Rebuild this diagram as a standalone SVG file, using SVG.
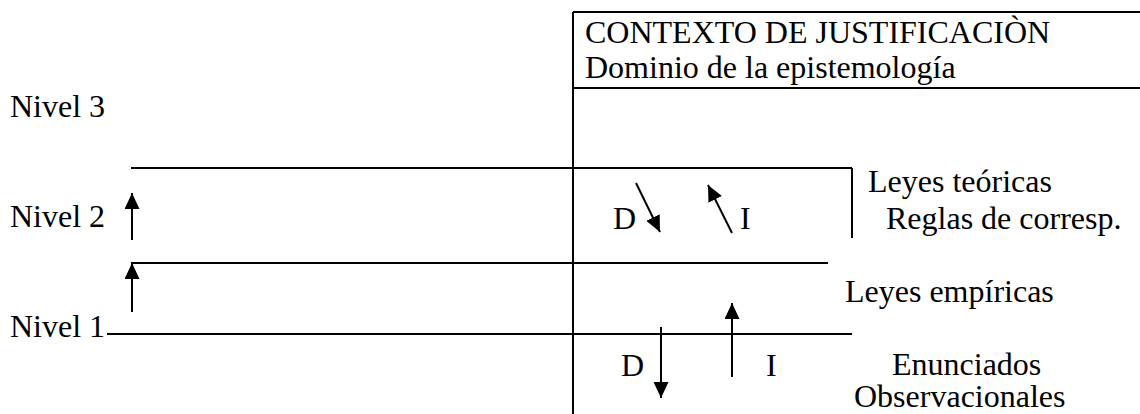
<svg xmlns="http://www.w3.org/2000/svg" width="1140" height="414" viewBox="0 0 1140 414">
<style>
text{font-family:"Liberation Serif","Times New Roman",serif;font-size:32px;fill:#000}
.ln{stroke:#000;stroke-width:2;fill:none}
</style>
<defs>
<marker id="ah" viewBox="0 0 16 15" refX="16" refY="7.5" markerWidth="16" markerHeight="15" markerUnits="userSpaceOnUse" orient="auto">
<path d="M0,0 L16,7.5 L0,15 z" fill="#000"/>
</marker>
</defs>
<rect width="1140" height="414" fill="#fff"/>
<g id="box">
<line class="ln" x1="573" y1="12" x2="1140" y2="12"/>
<line class="ln" x1="573" y1="12" x2="573" y2="414"/>
<line class="ln" x1="573" y1="88" x2="1140" y2="88"/>
<text x="585" y="43">CONTEXTO DE JUSTIFICACIÒN</text>
<text x="585" y="78">Dominio de la epistemología</text>
</g>
<g id="levels">
<line class="ln" x1="131" y1="168" x2="852" y2="168"/>
<line class="ln" x1="852" y1="168" x2="852" y2="238"/>
<line class="ln" x1="131" y1="263" x2="828" y2="263"/>
<line class="ln" x1="107" y1="334" x2="852" y2="334"/>
</g>
<g id="labels">
<text x="10" y="117">Nivel 3</text>
<text x="10" y="227">Nivel 2</text>
<text x="10" y="337">Nivel 1</text>
<text x="868" y="192">Leyes teóricas</text>
<text x="886" y="229">Reglas de corresp.</text>
<text x="845" y="302">Leyes empíricas</text>
<text x="892" y="375">Enunciados</text>
<text x="854" y="407">Observacionales</text>
<text x="613" y="229">D</text>
<text x="740" y="229">I</text>
<text x="621" y="376">D</text>
<text x="766" y="376">I</text>
</g>
<g id="connectors">
<line class="ln" x1="132" y1="240" x2="132" y2="193" marker-end="url(#ah)"/>
<line class="ln" x1="132" y1="312" x2="132" y2="263" marker-end="url(#ah)"/>
<line class="ln" x1="636" y1="183" x2="660" y2="232" marker-end="url(#ah)"/>
<line class="ln" x1="732" y1="233" x2="708" y2="185" marker-end="url(#ah)"/>
<line class="ln" x1="661" y1="327" x2="661" y2="398" marker-end="url(#ah)"/>
<line class="ln" x1="732" y1="377" x2="732" y2="303" marker-end="url(#ah)"/>
</g>
</svg>
